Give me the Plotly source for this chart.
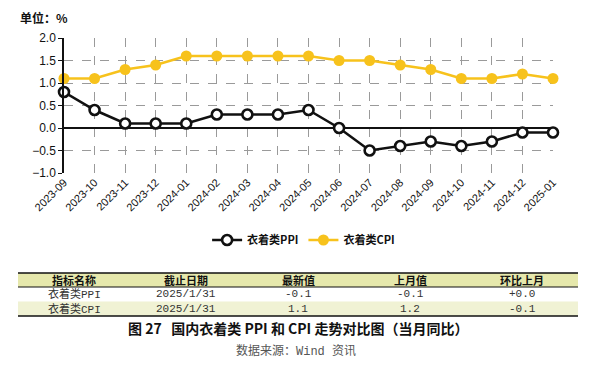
import plotly.graph_objects as go

months = ["2023-09", "2023-10", "2023-11", "2023-12", "2024-01", "2024-02", "2024-03",
          "2024-04", "2024-05", "2024-06", "2024-07", "2024-08", "2024-09", "2024-10",
          "2024-11", "2024-12", "2025-01"]
ppi = [0.8, 0.4, 0.1, 0.1, 0.1, 0.3, 0.3, 0.3, 0.4, 0.0, -0.5, -0.4, -0.3, -0.4, -0.3, -0.1, -0.1]
cpi = [1.1, 1.1, 1.3, 1.4, 1.6, 1.6, 1.6, 1.6, 1.6, 1.5, 1.5, 1.4, 1.3, 1.1, 1.1, 1.2, 1.1]

table_header = ["指标名称", "截止日期", "最新值", "上月值", "环比上月"]
table_rows = [
    ["衣着类PPI", "2025/1/31", "-0.1", "-0.1", "+0.0"],
    ["衣着类CPI", "2025/1/31", "1.1", "1.2", "-0.1"],
]
caption = "图 27   国内衣着类 PPI 和 CPI 走势对比图（当月同比）"
source = "数据来源：Wind 资讯"
unit_label = "单位：%"

W, H = 597, 373
ML, MR, MT, MB = 64, 44, 38, 200
PW, PH = W - ML - MR, H - MT - MB

def px_x(x):
    return (x - ML) / PW

def px_y(y):
    return (H - MB - y) / PH

CJK = "Noto Sans CJK SC"
LAT = "Liberation Sans"
GOLD = "#F7C21C"

fig = go.Figure()
fig.add_trace(go.Scatter(
    x=months, y=ppi, name="<b>衣着类PPI</b>", mode="lines+markers",
    line=dict(color="#111111", width=2.6),
    marker=dict(symbol="circle", size=10, color="white", line=dict(color="#111111", width=2.6)),
    cliponaxis=False,
))
fig.add_trace(go.Scatter(
    x=months, y=cpi, name="<b>衣着类CPI</b>", mode="lines+markers",
    line=dict(color=GOLD, width=2.6),
    marker=dict(symbol="circle", size=11, color=GOLD),
    cliponaxis=False,
))

fig.update_layout(
    width=W, height=H,
    margin=dict(l=ML, r=MR, t=MT, b=MB),
    paper_bgcolor="white", plot_bgcolor="white",
    showlegend=True,
    legend=dict(orientation="h", x=0.49, xanchor="center", y=px_y(240), yanchor="middle",
                font=dict(family=CJK, size=11, color="#111111"),
                itemwidth=30, tracegroupgap=0, bgcolor="rgba(0,0,0,0)"),
    xaxis=dict(type="category", range=[0, 16], showgrid=True, gridcolor="#9a9a9a",
               griddash="dash", gridwidth=1, tickangle=-45,
               tickfont=dict(family=LAT, size=11, color="#111111"),
               showline=False, ticks="", zeroline=False),
    yaxis=dict(range=[-1, 2], dtick=0.5, tickformat=".1f", showgrid=True,
               gridcolor="#9a9a9a", griddash="dash", gridwidth=1,
               zeroline=True, zerolinecolor="#111111", zerolinewidth=1.5,
               showline=True, linecolor="#111111", linewidth=1.5,
               ticks="outside", ticklen=4, tickcolor="#111111",
               tickfont=dict(family=LAT, size=12, color="#111111")),
)

shapes = []
annotations = []

annotations.append(dict(text="<b>" + unit_label + "</b>", x=px_x(18), y=px_y(17),
                        xref="paper", yref="paper", xanchor="left", yanchor="middle",
                        showarrow=False, font=dict(family=CJK, size=12, color="#111111")))

# table
tx0, tx1 = 18, 578
ty_top, ty_head, ty_r1, ty_bot = 273, 287, 301.5, 316
colw = (tx1 - tx0) / len(table_header)
shapes.append(dict(type="rect", xref="paper", yref="paper", x0=px_x(tx0), x1=px_x(tx1),
                   y0=px_y(ty_head), y1=px_y(ty_top), fillcolor="#E6E8AC", line=dict(width=0), layer="below"))
shapes.append(dict(type="rect", xref="paper", yref="paper", x0=px_x(tx0), x1=px_x(tx1),
                   y0=px_y(ty_bot), y1=px_y(ty_r1), fillcolor="#F0F2D4", line=dict(width=0), layer="below"))
for yy, lw in [(ty_top, 1.6), (ty_head, 1.2), (ty_bot, 1.6)]:
    shapes.append(dict(type="line", xref="paper", yref="paper", x0=px_x(tx0), x1=px_x(tx1),
                       y0=px_y(yy), y1=px_y(yy), line=dict(color="#111111", width=lw)))

for i, h in enumerate(table_header):
    annotations.append(dict(text="<b>" + h + "</b>", x=px_x(tx0 + colw * (i + 0.5)),
                            y=px_y((ty_top + ty_head) / 2), xref="paper", yref="paper",
                            xanchor="center", yanchor="middle", showarrow=False,
                            font=dict(family=CJK, size=11, color="#111111")))
row_centers = [(ty_head + ty_r1) / 2, (ty_r1 + ty_bot) / 2]
for r, row in enumerate(table_rows):
    for i, v in enumerate(row):
        annotations.append(dict(text=v, x=px_x(tx0 + colw * (i + 0.5)), y=px_y(row_centers[r]),
                                xref="paper", yref="paper", xanchor="center", yanchor="middle",
                                showarrow=False,
                                font=dict(family="Liberation Mono, " + CJK, size=11, color="#333333")))

annotations.append(dict(text="<b>" + caption + "</b>", x=px_x(298), y=px_y(328),
                        xref="paper", yref="paper", xanchor="center", yanchor="middle",
                        showarrow=False, font=dict(family=CJK, size=14, color="#111111")))
annotations.append(dict(text=source, x=px_x(296), y=px_y(351),
                        xref="paper", yref="paper", xanchor="center", yanchor="middle",
                        showarrow=False, font=dict(family="Liberation Mono, " + CJK, size=12, color="#555555")))

fig.update_layout(shapes=shapes, annotations=annotations)
fig.write_html("out.html", config={"displayModeBar": False},
               post_script="document.body.style.margin='0';document.body.style.overflow='hidden';")
